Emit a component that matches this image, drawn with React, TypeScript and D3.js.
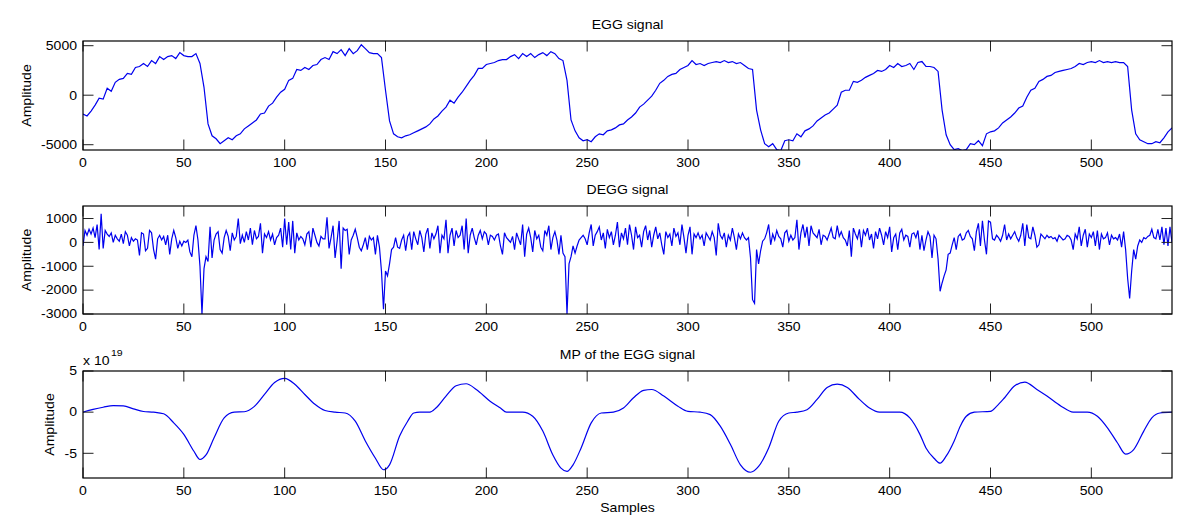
import React from 'react';
import * as d3 from 'd3';

// ---------- data ----------
const X_TICKS = [0, 50, 100, 150, 200, 250, 300, 350, 400, 450, 500];
const X_DOMAIN = [0, 540];

// EGG signal, one value every EGG_STEP samples
const EGG_STEP = 2;
const EGG = [
  -1900, -2100, -1600, -1000, -300, -400, 700, 400, 1300, 1600,
  1700, 2200, 2100, 2800, 2900, 3200, 2900, 3500, 3200, 3900,
  3600, 3900, 4000, 3700, 4300, 4000, 3900, 3900, 4200, 3200,
  800, -2900, -4100, -4400, -4900, -4600, -4300, -4500, -4100, -3900,
  -3400, -3100, -2800, -2500, -1900, -1800, -1100, -800, -200, 300,
  600, 1500, 1700, 2600, 2500, 2800, 2600, 3000, 3100, 3600,
  3800, 3600, 4400, 4200, 4600, 4000, 4700, 4200, 4500, 5100,
  4700, 4300, 4200, 4200, 3800, 500, -2600, -3900, -4200, -4300,
  -4100, -4000, -3800, -3600, -3400, -3200, -2900, -2400, -2100, -1600,
  -1200, -500, -800, -200, 300, 900, 1500, 2000, 2700, 2700,
  3100, 3200, 3300, 3500, 3600, 3600, 3900, 4100, 3700, 4200,
  3900, 4200, 3800, 4100, 4300, 4000, 4400, 4200, 3700, 3500,
  1500, -2500, -3600, -4300, -4600, -4500, -4700, -4200, -3900, -4000,
  -3600, -3500, -3300, -3000, -2900, -2500, -2200, -1800, -1200, -900,
  -500, -100, 500, 1200, 1500, 1900, 2100, 2200, 2600, 2800,
  3000, 3500, 3100, 3200, 3000, 3200, 3300, 3400, 3300, 3500,
  3300, 3400, 3200, 3300, 3000, 2700, 2600, -1500, -3500, -4900,
  -5200, -4900, -5500, -5600, -4600, -4500, -4600, -3900, -4200, -3600,
  -3400, -3100, -2600, -2300, -2000, -1800, -1400, -1000, 300, 500,
  500, 1400, 1300, 1500, 1800, 2000, 2200, 2500, 2400, 2600,
  3000, 2800, 3200, 2900, 3000, 3200, 2600, 3300, 3400, 2900,
  2900, 2800, 2400, -1500, -4000, -5000, -5500, -5400, -5600, -5500,
  -4900, -5000, -4600, -5100, -3900, -3700, -3600, -3300, -2800, -2500,
  -2200, -1800, -1300, -1100, -200, 500, 700, 1400, 1600, 1900,
  2000, 2300, 2400, 2500, 2600, 2700, 2900, 3200, 3100, 3300,
  3400, 3300, 3500, 3300, 3400, 3300, 3400, 3300, 3300, 2900,
  -1500, -3900, -4500, -4700, -4900, -4900, -4700, -4800, -4300, -3700,
  -3300,
];

// DEGG signal, one value per sample (0..540)
const DEGG = [
  -150, 500, 300, 550, 350, 600, 200, 750, -300, 1200,
  -250, 500, 350, 250, 400, 0, 300, 150, 50, 350,
  -50, 450, 300, -150, 200, 50, 150, 100, -550, 400,
  350, -350, -250, 500, 400, -300, -700, 150, 300, 100,
  250, -100, 300, -500, 150, 500, 200, -250, 50, -150,
  50, 0, 100, -400, -600, 300, 700, 100, -1000, -3000,
  -1100, -600, -800, 650, -650, 100, 350, 450, -300, -450,
  200, 500, 250, -350, 400, 100, 250, 1000, -50, 300,
  0, 450, 100, 600, -100, 500, 150, 250, 800, -450,
  350, 200, 450, 100, 350, -100, 200, 300, 600, -200,
  1000, -100, 850, -300, 900, -450, 400, 100, 250, 150,
  -100, 350, 450, -200, 600, 300, 0, -150, 250, 150,
  150, 1050, -250, 200, 700, -650, 50, 900, -1100, 600,
  500, 550, -500, 100, 300, 550, 200, -200, -350, -100,
  200, -300, 250, 100, 200, -500, 300, -200, -1200, -2800,
  -1200, -1400, -900, -300, -200, 200, -200, -250, 100, 300,
  -350, 250, 400, -300, 450, 150, -100, 500, 200, -400,
  350, 600, -250, 400, 150, 350, 700, -450, 300, 150,
  950, -450, 300, 600, -150, 500, 200, 300, 700, -300,
  1000, -450, 300, 600, 200, -100, 300, 500, 150, 450,
  350, -100, 300, 250, 100, 300, 350, -150, -500, 400,
  200, 100, 0, 250, -300, 400, 150, -100, 750, -600,
  350, 600, 200, -400, 500, 150, 300, -200, -350, 500,
  300, 700, -300, 200, 450, 100, -500, 300, -450, -600,
  -3000, -900, -600, -150, -450, -150, 100, 200, 300, 150,
  -100, 400, 750, -150, 300, 450, 650, 100, 400, -250,
  550, 200, 450, -100, 300, 850, -200, 400, 150, 600,
  -100, 750, 300, -300, 650, 200, 300, -200, 450, 700,
  100, 500, -200, 300, 650, 150, 400, -100, -500, 450,
  200, 350, -150, 600, 250, 400, -100, 750, 200, -450,
  300, 650, -500, 350, 200, 400, 150, 300, -150, 400,
  250, 100, 450, 200, -550, 800, 300, 150, 400, -200,
  300, 100, 600, 200, -300, 350, 150, 400, 200, 100,
  200, -650, -2400, -2550, -300, -900, -350, 50, 150, 400,
  750, -100, 350, 100, 500, 250, 150, -200, 400, 500,
  50, 300, 100, 200, 950, -300, 400, 750, 200, 650,
  -150, 700, 400, 300, 200, 550, -100, 300, 250, 100,
  350, 600, 200, 150, 700, 250, 450, 200, 100, -150,
  500, -600, 600, 350, 150, 550, -200, 500, 300, 600,
  100, 350, -250, 450, 150, 600, 300, -100, 450, 200,
  650, -400, 200, 350, -300, 400, 550, 100, 300, 250,
  -200, 350, 400, 200, 500, -300, 300, -350, 100, 450,
  250, -650, 300, 150, -700, -2050, -1700, -1400, -1150, -500,
  -450, -100, 200, -300, 250, 350, 100, 150, 400, 500,
  250, 150, -350, 450, 800, -150, 900, 100, -500, 900,
  850, 150, 100, 300, 200, 50, 300, 750, 100, 350,
  150, 300, 450, 200, 50, 300, 800, -150, 750, 200,
  150, 650, 300, -200, -100, 350, 250, 150, 300, 200,
  250, 150, 200, 50, 300, 200, 100, 150, 300, 250,
  100, -300, 350, 150, 650, -150, 300, 550, -200, 350,
  200, 450, -150, 500, -300, 350, 150, 200, 400, -100,
  300, 150, 200, 100, 350, -200, 450, -300, -1500, -2350,
  -1200, -300, -700, -150, 100, 0, 200, 150, 250, 300,
  550, 200, 150, 550, 100, 650, -100, 600, -150, 650,
  0,
];

// MP of the EGG signal (x 10^19), read at these samples
const MP_X = [
  0, 5, 10, 15, 20, 25, 30, 35, 40, 45, 50, 55, 58, 61, 65, 70, 75, 80, 85, 90,
  95, 100, 105, 110, 115, 120, 125, 130, 135, 140, 145, 149, 152, 157, 161, 164, 167, 172, 175, 180,
  185, 190, 195, 202, 207, 210, 218, 223, 228, 233, 237, 240, 243, 247, 252, 257, 263, 268, 273, 278,
  282, 288, 295, 300, 306, 311, 316, 321, 326, 331, 335, 340, 345, 350, 354, 359, 364, 369, 374, 379,
  385, 390, 395, 405, 410, 415, 418, 422, 425, 428, 432, 435, 438, 442, 450, 453, 457, 462, 467, 473,
  478, 485, 491, 498, 503, 508, 513, 517, 521, 526, 530, 534, 540,
];
const MP_Y = [
  0, 0.33, 0.6, 0.8, 0.77, 0.4, 0.08, 0, -0.2, -1.3, -2.7, -4.75, -5.75, -5.2, -3.1, -0.7, 0, 0.05, 0.7, 2.15,
  3.6, 4.1, 3.4, 2.15, 0.95, 0.2, 0, -0.1, -1.1, -3.5, -5.6, -7.0, -6.4, -2.9, -1.1, -0.1, 0, 0, 0.5, 1.95,
  3.2, 3.45, 2.75, 1.3, 0.5, 0, 0, -0.5, -2.3, -5.2, -6.8, -7.2, -6.4, -4.35, -1.3, -0.1, 0, 0.5, 1.75, 2.65,
  2.75, 1.95, 0.73, 0.1, 0, -0.3, -1.7, -3.9, -6.4, -7.3, -6.6, -4.35, -1.1, -0.1, 0, 0.3, 1.55, 3.0, 3.4, 3.0,
  1.55, 0.5, 0, 0, -0.7, -2.7, -4.35, -5.6, -6.2, -5.35, -3.5, -1.7, -0.5, 0, 0.1, 0.7, 1.75, 3.2, 3.65, 2.75,
  1.95, 0.73, 0, 0, -0.5, -1.9, -3.75, -5.1, -4.55, -2.3, -0.7, -0.1, 0,
];

const EGG_TICKS = [-5000, 0, 5000];
const DEGG_TICKS = [-3000, -2000, -1000, 0, 1000];
const MP_TICKS = [-5, 0, 5];

// ---------- layout ----------
const W = 1200;
const H = 532;
const LEFT = 83;
const RIGHT = 1172;
const FONT = '"Liberation Sans", Arial, Helvetica, sans-serif';
const SX = 1.17;
const TICK = 10.5;
const LINE_COLOR = '#0000ee';

type Pt = [number, number];

function Txt(props: {
  x: number; y: number; anchor?: string; rotate?: number; size?: number; children: React.ReactNode; dy?: string;
}) {
  const { x, y, anchor = 'middle', rotate = 0, size = 12, children, dy } = props;
  return (
    <text
      transform={`translate(${x},${y}) rotate(${rotate}) scale(${SX},1)`}
      textAnchor={anchor}
      fontFamily={FONT}
      fontSize={size}
      fill="#000"
      dy={dy}
    >
      {children}
    </text>
  );
}

function Panel(props: {
  id: string; top: number; bottom: number; yDomain: [number, number]; yTicks: number[];
  points: Pt[]; title: string; titleY: number; ylabelX: number; smooth?: boolean;
}) {
  const { id, top, bottom, yDomain, yTicks, points, title, titleY, ylabelX, smooth } = props;
  const x = d3.scaleLinear().domain(X_DOMAIN).range([LEFT, RIGHT]);
  const y = d3.scaleLinear().domain(yDomain).range([bottom, top]);
  const line = d3.line<Pt>().x((d) => x(d[0])).y((d) => y(d[1]));
  if (smooth) line.curve(d3.curveMonotoneX);
  const d = line(points) || '';
  const cx = (LEFT + RIGHT) / 2;
  return (
    <g>
      <defs>
        <clipPath id={`clip-${id}`}>
          <rect x={LEFT} y={top} width={RIGHT - LEFT} height={bottom - top} />
        </clipPath>
      </defs>
      <path d={d} fill="none" stroke={LINE_COLOR} strokeWidth={1.2} clipPath={`url(#clip-${id})`} />
      {X_TICKS.map((t) => (
        <g key={`xt${t}`}>
          <line x1={x(t)} x2={x(t)} y1={bottom} y2={bottom - TICK} stroke="#222" strokeWidth={1} />
          <line x1={x(t)} x2={x(t)} y1={top} y2={top + TICK} stroke="#222" strokeWidth={1} />
          <Txt x={x(t)} y={bottom + 17}>{t}</Txt>
        </g>
      ))}
      {yTicks.map((t) => (
        <g key={`yt${t}`}>
          <line x1={LEFT} x2={LEFT + TICK} y1={y(t)} y2={y(t)} stroke="#222" strokeWidth={1} />
          <line x1={RIGHT} x2={RIGHT - TICK} y1={y(t)} y2={y(t)} stroke="#222" strokeWidth={1} />
          <Txt x={LEFT - 6} y={y(t)} anchor="end" dy="0.36em">{t}</Txt>
        </g>
      ))}
      <rect x={LEFT} y={top} width={RIGHT - LEFT} height={bottom - top} fill="none" stroke="#000" strokeWidth={1.2} />
      <Txt x={cx} y={titleY}>{title}</Txt>
      <Txt x={ylabelX} y={(top + bottom) / 2} rotate={-90}>Amplitude</Txt>
    </g>
  );
}

export default function App() {
  const eggPts: Pt[] = EGG.map((v, i) => [i * EGG_STEP, v]);
  const deggPts: Pt[] = DEGG.map((v, i) => [i, v]);
  const mpPts: Pt[] = MP_X.map((xv, i) => [xv, MP_Y[i]]);
  return (
    <svg
      width={W}
      height={H}
      viewBox={`0 0 ${W} ${H}`}
      style={{ position: 'absolute', left: 0, top: 0, background: '#fff' }}
    >
      <rect x={0} y={0} width={W} height={H} fill="#fff" />
      <Panel id="egg" top={41} bottom={150} yDomain={[-5535, 5475]} yTicks={EGG_TICKS}
        points={eggPts} title="EGG signal" titleY={29} ylabelX={30.5} />
      <Panel id="degg" top={206} bottom={314} yDomain={[-3000, 1525]} yTicks={DEGG_TICKS}
        points={deggPts} title="DEGG signal" titleY={194} ylabelX={30.5} />
      <Panel id="mp" top={371} bottom={478} yDomain={[-8, 5]} yTicks={MP_TICKS}
        points={mpPts} title="MP of the EGG signal" titleY={359} ylabelX={53.5} smooth />
      <Txt x={LEFT} y={365} anchor="start">x 10</Txt>
      <Txt x={111} y={356} anchor="start" size={9}>19</Txt>
      <Txt x={(LEFT + RIGHT) / 2} y={512}>Samples</Txt>
    </svg>
  );
}
